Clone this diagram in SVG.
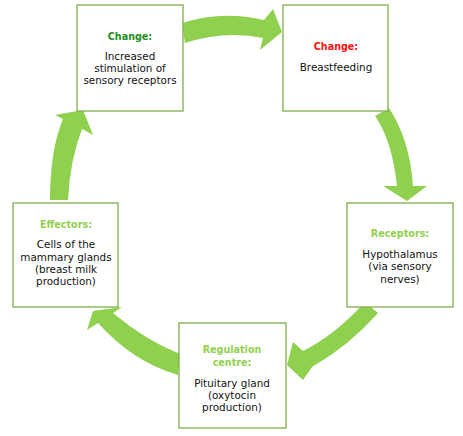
<svg xmlns="http://www.w3.org/2000/svg" width="463" height="436" viewBox="0 0 463 436">
<style>
.box{fill:#fff;stroke:#7fae4c;stroke-width:1.3}
.arr{fill:#8fd14f}
text{font-family:"DejaVu Sans","Liberation Sans",sans-serif;font-size:10.4px;text-anchor:middle;fill:#111}
.h{font-weight:bold;font-size:9.6px;fill:#92d050}
.dg{fill:#1f8f1f}
.rd{fill:#ff1010}
</style>
<rect width="463" height="436" fill="#fff"/>
<g id="connectors">
<path class="arr" d="M182,23 Q222,10 264,20 L273,9 L282,32 L260,50 L263,38 Q225,30 185,43 Z"/>
<path class="arr" d="M375,116 Q392,140 397,186 L383,186 L407,201 L427,186 L413,186 Q410,140 389,108 Z"/>
<path class="arr" d="M365,302 Q335,335 303,351 L293,342 L287,365 L303,380 L312,367 Q350,345 378,313 Z"/>
<path class="arr" d="M180,354 Q145,340 113,313 L122,307 L93,311 L87,330 L98,323 Q133,362 178,375 Z"/>
<path class="arr" d="M50,200 Q50,150 63,119 L55,115 L83,110 L93,135 L82,129 Q70,160 68,200 Z"/>
</g>
<g id="node-change1">
<rect class="box" x="77" y="5" width="106" height="106"/>
<text class="h dg" x="130" y="40">Change:</text>
<text x="130" y="60">Increased</text>
<text x="130" y="72.2">stimulation of</text>
<text x="130" y="84.4">sensory receptors</text>
</g>
<g id="node-change2">
<rect class="box" x="283" y="5" width="105" height="106"/>
<text class="h rd" x="336" y="50">Change:</text>
<text x="336" y="71">Breastfeeding</text>
</g>
<g id="node-receptors">
<rect class="box" x="347" y="203" width="106" height="104"/>
<text class="h" x="400" y="237">Receptors:</text>
<text x="400" y="258">Hypothalamus</text>
<text x="400" y="270.3">(via sensory</text>
<text x="400" y="282.6">nerves)</text>
</g>
<g id="node-regulation">
<rect class="box" x="179" y="323" width="107" height="105"/>
<text class="h" x="232" y="353.3">Regulation</text>
<text class="h" x="232" y="366">centre:</text>
<text x="232" y="386.7">Pituitary gland</text>
<text x="232" y="399">(oxytocin</text>
<text x="232" y="411.3">production)</text>
</g>
<g id="node-effectors">
<rect class="box" x="13" y="203" width="105" height="104"/>
<text class="h" x="66" y="227.7">Effectors:</text>
<text x="66" y="248.3">Cells of the</text>
<text x="66" y="260.6">mammary glands</text>
<text x="66" y="272.9">(breast milk</text>
<text x="66" y="285.2">production)</text>
</g>
</svg>
